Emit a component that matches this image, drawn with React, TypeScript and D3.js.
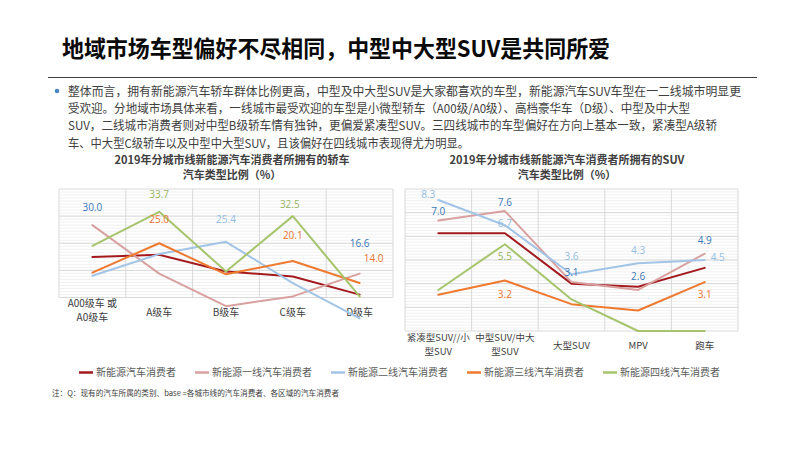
import { useRef, useEffect } from 'react';
import * as d3 from 'd3';

const seriesNames = ['新能源汽车消费者', '新能源一线汽车消费者', '新能源二线汽车消费者', '新能源三线汽车消费者', '新能源四线汽车消费者'];
const seriesColors = ['#A31A1E', '#D8A19F', '#A2C4E6', '#EE7A30', '#A6C46C'];
const labelColors = ['#A31A1E', '#3B78B8', '#93BDE4', '#EA7330', '#97B35E'];

const sedanCategories = [['A00级车 或', 'A0级车'], ['A级车'], ['B级车'], ['C级车'], ['D级车']];
const sedanAll = [21.2, 21.8, 17.2, 15.8, 10.8];
const sedanTier1 = [30.0, 16.6, 7.6, 10.3, 16.6];
const sedanTier2 = [16.0, 22.0, 25.4, 14.0, 4.2];
const sedanTier3 = [16.9, 25.0, 16.4, 20.1, 14.0];
const sedanTier4 = [24.3, 33.7, 17.2, 32.5, 10.3];

const suvCategories = [['紧凑型SUV//小', '型SUV'], ['中型SUV/中大', '型SUV'], ['大型SUV'], ['MPV'], ['跑车']];
const suvAll = [6.2, 6.2, 3.0, 2.8, 4.0];
const suvTier1 = [7.0, 7.6, 3.1, 2.6, 4.9];
const suvTier2 = [8.3, 6.7, 3.6, 4.3, 4.5];
const suvTier3 = [2.3, 3.2, 1.7, 1.3, 3.1];
const suvTier4 = [2.6, 5.5, 2.0, 0, 0];

// which points carry a value label: [series, category]
const sedanLabels = [[1, 0], [4, 1], [3, 1], [2, 2], [4, 3], [3, 3], [1, 4], [3, 4]];
const suvLabels = [[2, 0], [1, 0], [1, 1], [2, 1], [2, 2], [1, 2], [4, 1], [3, 1], [2, 3], [1, 3], [1, 4], [2, 4], [3, 4]];

// label nudges (layout only), same order as above
const sedanLabelShift = [[0, -14], [0, -14], [0, -20], [0, -19], [-3, -8], [0, -22], [0, -27], [14, -21]];
const suvLabelShift = [[-10, -2], [0, -6], [0, -5], [0, 2], [0, -14], [0, -6], [0, 16], [0, 17], [0, -9], [0, -10], [0, -10], [13, 1], [0, 16]];

const paragraph = [
    '整体而言，拥有新能源汽车轿车群体比例更高，中型及中大型SUV是大家都喜欢的车型，新能源汽车SUV车型在一二线城市明显更',
    '受欢迎。分地域市场具体来看，一线城市最受欢迎的车型是小微型轿车（A00级/A0级）、高档豪华车（D级）、中型及中大型',
    'SUV，二线城市消费者则对中型B级轿车情有独钟，更偏爱紧凑型SUV。三四线城市的车型偏好在方向上基本一致，紧凑型A级轿',
    '车、中大型C级轿车以及中型中大型SUV，且该偏好在四线城市表现得尤为明显。',
];
const paragraphWidths = [673, 622, 649, 401];

const CJK = '"Noto Sans CJK SC", "Noto Sans", sans-serif';

type ChartCfg = {
    left: number; right: number; top: number; bottom: number;
    domain: [number, number]; majors: number; minors: number;
    title: string[]; titleX: number;
    categories: string[][];
    catFont: number;
    series: number[][];
    labels: number[][];
    shifts: number[][];
};

const drawChart = (svg: d3.Selection<SVGSVGElement, unknown, null, undefined>, cfg: ChartCfg) => {
    const { left, right, top, bottom, domain, majors, minors } = cfg;

    const x = d3.scaleBand<number>()
        .domain(d3.range(cfg.categories.length))
        .range([left, right]);
    const cx = (i: number) => (x(i) as number) + x.bandwidth() / 2;

    const y = d3.scaleLinear().domain(domain).range([bottom, top]);

    const g = svg.append('g');

    // chart title
    cfg.title.forEach((t, i) => {
        g.append('text')
            .attr('x', cfg.titleX)
            .attr('y', 164 + i * 15)
            .attr('text-anchor', 'middle')
            .style('font-family', CJK)
            .style('font-size', '11px')
            .style('font-weight', 700)
            .style('fill', '#404040')
            .text(t);
    });

    // minor grid
    const span = domain[1] - domain[0];
    g.selectAll('line.minor')
        .data(d3.range(1, minors).map(i => domain[0] + (span * i) / minors))
        .join('line')
        .attr('x1', left).attr('x2', right)
        .attr('y1', d => y(d)).attr('y2', d => y(d))
        .attr('stroke', '#EEEEEE')
        .attr('stroke-width', 0.8);

    // major grid
    g.selectAll('line.major')
        .data(d3.range(0, majors + 1).map(i => domain[0] + (span * i) / majors))
        .join('line')
        .attr('x1', left).attr('x2', right)
        .attr('y1', d => y(d)).attr('y2', d => y(d))
        .attr('stroke', '#D9D9D9')
        .attr('stroke-width', 1);

    // category boundaries
    g.selectAll('line.vgrid')
        .data(d3.range(cfg.categories.length + 1))
        .join('line')
        .attr('x1', i => left + i * x.bandwidth())
        .attr('x2', i => left + i * x.bandwidth())
        .attr('y1', top).attr('y2', bottom)
        .attr('stroke', '#D9D9D9')
        .attr('stroke-width', 1);

    // category labels
    cfg.categories.forEach((lines, i) => {
        lines.forEach((t, j) => {
            g.append('text')
                .attr('x', cx(i))
                .attr('y', lines.length > 1 ? bottom + 9.5 + j * 14 : bottom + 18)
                .attr('text-anchor', 'middle')
                .style('font-family', CJK)
                .style('font-size', `${cfg.catFont}px`)
                .style('fill', '#404040')
                .text(t);
        });
    });

    const line = d3.line<number>()
        .x((_, i) => cx(i))
        .y(d => y(d));

    cfg.series.forEach((vals, s) => {
        g.append('path')
            .datum(vals)
            .attr('fill', 'none')
            .attr('stroke', seriesColors[s])
            .attr('stroke-width', 2)
            .attr('stroke-linejoin', 'round')
            .attr('stroke-linecap', 'round')
            .attr('d', line);
    });

    cfg.labels.forEach(([s, c], k) => {
        const [dx, dy] = cfg.shifts[k];
        g.append('text')
            .attr('x', cx(c) + dx)
            .attr('y', y(cfg.series[s][c]) + dy)
            .attr('text-anchor', 'middle')
            .style('font-family', '"Open Sans", "Noto Sans", sans-serif')
            .style('font-size', '10px')
            .style('fill', labelColors[s])
            .text(cfg.series[s][c].toFixed(1));
    });
};

const App = () => {
    const svgRef = useRef<SVGSVGElement | null>(null);

    useEffect(() => {
        const svgElement = svgRef.current;
        if (!svgElement) return;
        const svg = d3.select(svgElement);
        svg.selectAll('*').remove();

        svg.append('rect').attr('width', 800).attr('height', 450).attr('fill', '#fff');

        // page title
        svg.append('text')
            .attr('x', 62)
            .attr('y', 57)
            .attr('textLength', 548)
            .attr('lengthAdjust', 'spacingAndGlyphs')
            .style('font-family', CJK)
            .style('font-size', '23px')
            .style('font-weight', 700)
            .style('fill', '#0a0a0a')
            .text('地域市场车型偏好不尽相同，中型中大型SUV是共同所爱');

        svg.append('line')
            .attr('x1', 48).attr('x2', 757)
            .attr('y1', 77.5).attr('y2', 77.5)
            .attr('stroke', '#404040')
            .attr('stroke-width', 1.2);

        svg.append('circle')
            .attr('cx', 57).attr('cy', 91).attr('r', 2.3)
            .attr('fill', '#4A86C5');

        paragraph.forEach((t, i) => {
            svg.append('text')
                .attr('x', 68)
                .attr('y', 95.5 + i * 17.4)
                .attr('textLength', paragraphWidths[i])
                .attr('lengthAdjust', 'spacingAndGlyphs')
                .style('font-family', CJK)
                .style('font-size', '12px')
                .style('fill', '#404040')
                .text(t);
        });

        drawChart(svg, {
            left: 59, right: 393, top: 189, bottom: 297.5,
            domain: [10, 40], majors: 4, minors: 36,
            title: ['2019年分城市线新能源汽车消费者所拥有的轿车', '汽车类型比例（%）'],
            titleX: 232,
            categories: sedanCategories,
            catFont: 10,
            series: [sedanAll, sedanTier1, sedanTier2, sedanTier3, sedanTier4],
            labels: sedanLabels,
            shifts: sedanLabelShift,
        });

        drawChart(svg, {
            left: 405, right: 738, top: 189, bottom: 331,
            domain: [0, 9], majors: 6, minors: 48,
            title: ['2019年分城市线新能源汽车消费者所拥有的SUV', '汽车类型比例（%）'],
            titleX: 567,
            categories: suvCategories,
            catFont: 9.5,
            series: [suvAll, suvTier1, suvTier2, suvTier3, suvTier4],
            labels: suvLabels,
            shifts: suvLabelShift,
        });

        // legend
        let lx = 79;
        seriesNames.forEach((name, i) => {
            svg.append('line')
                .attr('x1', lx).attr('x2', lx + 14)
                .attr('y1', 372.5).attr('y2', 372.5)
                .attr('stroke', seriesColors[i])
                .attr('stroke-width', 2.5);
            const t = svg.append('text')
                .attr('x', lx + 17)
                .attr('y', 376)
                .style('font-family', CJK)
                .style('font-size', '10px')
                .style('fill', '#595959')
                .text(name);
            const w = (t.node() as SVGTextElement).getComputedTextLength();
            lx += 17 + w + 19;
        });

        svg.append('text')
            .attr('x', 52)
            .attr('y', 396)
            .attr('textLength', 287)
            .attr('lengthAdjust', 'spacingAndGlyphs')
            .style('font-family', CJK)
            .style('font-size', '7.5px')
            .style('fill', '#404040')
            .text('注：Q：现有的汽车所属的类别、base =各城市线的汽车消费者、各区域的汽车消费者');
    }, []);

    return (
        <div style={{ position: 'fixed', left: 0, top: 0, width: 800, height: 450 }}>
            <svg ref={svgRef} width={800} height={450} style={{ display: 'block' }}></svg>
        </div>
    );
};

export default App;
